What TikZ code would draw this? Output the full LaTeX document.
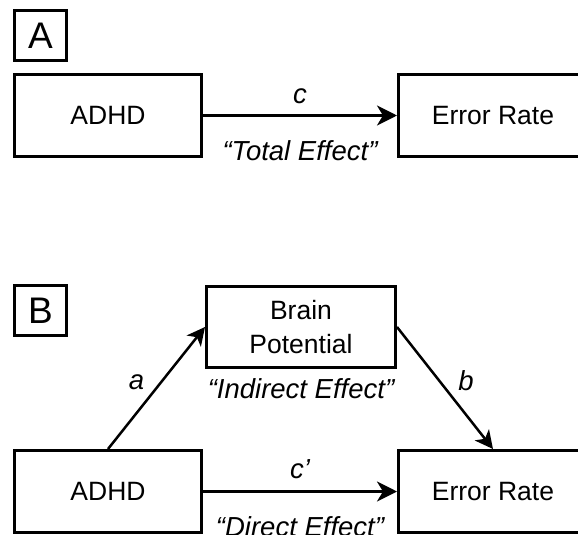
\documentclass[tikz,border=0pt]{standalone}
\usepackage{fontspec}
\setmainfont{Liberation Sans}
\usetikzlibrary{arrows.meta, positioning}
\tikzset{
  varbox/.style={rectangle,draw=black,line width=3pt,inner sep=0pt,align=center,
    minimum width=187pt,minimum height=82pt,font=\fontsize{26.5}{34}\selectfont},
  panelbox/.style={rectangle,draw=black,line width=3pt,inner sep=0pt,
    minimum width=52pt,minimum height=50pt,font=\fontsize{37}{40}\selectfont},
  pathlbl/.style={inner sep=0pt,font=\fontsize{27.5}{30}\selectfont\itshape},
  effarr/.style={-{Stealth[length=20pt,width=20pt,inset=6pt]},line width=3pt},
  diagarr/.style={-{Stealth[length=18pt,width=18pt,inset=5pt]},line width=2.5pt}
}
\begin{document}
\begin{tikzpicture}[x=1pt,y=-1pt]
  \useasboundingbox (0,0) rectangle (578,535);
  \clip (0,0) rectangle (578,535);

  % panel A
  \node[panelbox] (panA) at (40.5,35.5) {A};
  \node[varbox] (adhdA) at (108,115.5) {ADHD};
  \node[varbox,minimum width=189pt] (errA) at (493,115.5) {Error Rate};
  \draw[effarr] (adhdA.east) -- (errA.west)
    node[pathlbl,midway,above=10pt] {c}
    node[pathlbl,midway,below=24pt] {“Total Effect”};

  % panel B
  \node[panelbox] (panB) at (40.5,310.5) {B};
  \node[varbox,minimum width=189pt,minimum height=81pt] (brain) at (301,327) {Brain\\Potential};
  \node[pathlbl,below=9pt of brain] (indir) {“Indirect Effect”};
  \node[varbox] (adhdB) at (108,491.5) {ADHD};
  \node[varbox,minimum width=189pt] (errB) at (493,491.5) {Error Rate};
  \draw[diagarr] (adhdB.north) -- (brain.west)
    node[pathlbl,midway,xshift=-20pt,yshift=6pt] {a};
  \draw[diagarr] (brain.east) -- (errB.north)
    node[pathlbl,midway,xshift=21pt,yshift=7pt] {b};
  \draw[effarr] (adhdB.east) -- (errB.west)
    node[pathlbl,midway,above=11pt] {c’}
    node[pathlbl,midway,below=24pt] {“Direct Effect”};
\end{tikzpicture}
\end{document}
